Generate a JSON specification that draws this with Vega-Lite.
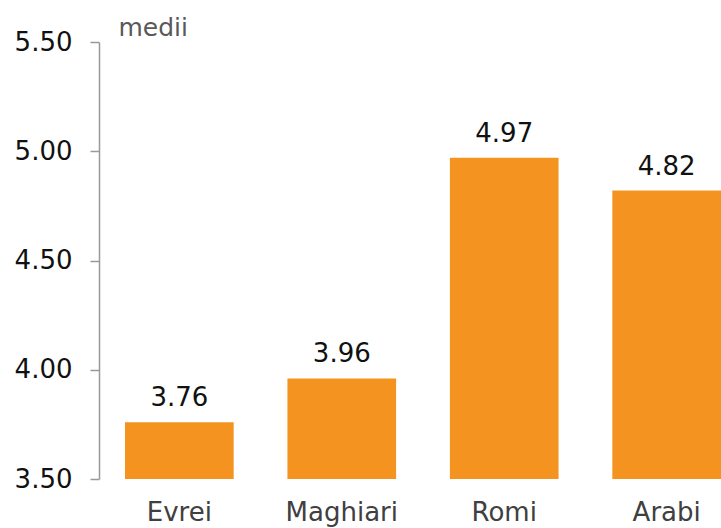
{
  "$schema": "https://vega.github.io/schema/vega-lite/v6.json",
  "autosize": {"type": "none"},
  "padding": {"left": 99, "top": 42, "right": 0, "bottom": 49},
  "width": 648,
  "height": 437,
  "background": "white",
  "data": {"values": [
    {"grup": "Evrei", "medie": 3.76},
    {"grup": "Maghiari", "medie": 3.96},
    {"grup": "Romi", "medie": 4.97},
    {"grup": "Arabi", "medie": 4.82}
  ]},
  "config": {
    "view": {"stroke": null},
    "font": "DejaVu Sans"
  },
  "encoding": {
    "x": {
      "field": "grup", "type": "nominal", "sort": null,
      "scale": {"paddingInner": 0.331, "paddingOuter": 0.16},
      "axis": {"title": null, "domain": false, "ticks": false, "labelAngle": 0,
        "labelFontSize": 26, "labelColor": "#404040", "labelPadding": 20, "labelFont": "DejaVu Sans"}
    },
    "y": {
      "field": "medie", "type": "quantitative",
      "scale": {"domain": [3.5, 5.5], "zero": false, "nice": false},
      "axis": {
        "values": [3.5, 4.0, 4.5, 5.0, 5.5], "format": ".2f", "grid": false,
        "domainColor": "#999999", "tickColor": "#999999", "tickSize": 9, "domainWidth": 1.5, "tickWidth": 1.5,
        "labelFontSize": 26, "labelColor": "#111111", "labelPadding": 18, "labelFont": "DejaVu Sans",
        "title": "medii", "titleAngle": 0, "titleX": 19, "titleY": -7, "titleAlign": "left", "titleBaseline": "alphabetic",
        "titleFontSize": 25, "titleFontWeight": "normal", "titleColor": "#595959", "titleFont": "DejaVu Sans"
      }
    }
  },
  "layer": [
    {"mark": {"type": "bar", "color": "#F4931F", "clip": false},
     "encoding": {"y2": {"datum": 3.5}}},
    {"mark": {"type": "text", "dy": -16, "baseline": "alphabetic", "fontSize": 26, "color": "#111111", "font": "DejaVu Sans"},
     "encoding": {"text": {"field": "medie", "type": "quantitative", "format": ".2f"}}}
  ]
}
